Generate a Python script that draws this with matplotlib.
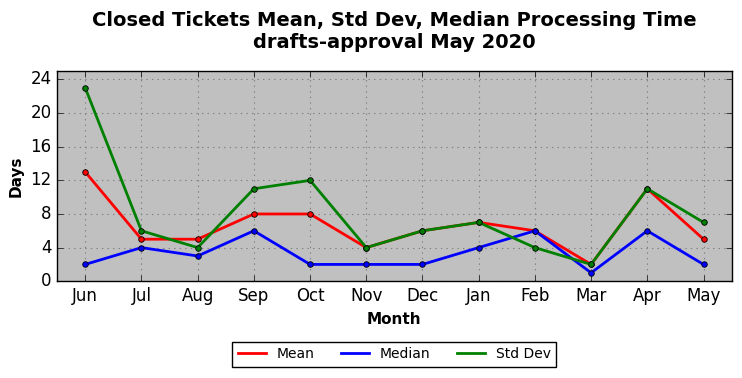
import matplotlib
matplotlib.use("Agg")
import matplotlib.pyplot as plt

months = ["Jun", "Jul", "Aug", "Sep", "Oct", "Nov", "Dec", "Jan", "Feb", "Mar", "Apr", "May"]
mean = [13, 5, 5, 8, 8, 4, 6, 7, 6, 2, 11, 5]
median = [2, 4, 3, 6, 2, 2, 2, 4, 6, 1, 6, 2]
std_dev = [23, 6, 4, 11, 12, 4, 6, 7, 4, 2, 11, 7]

plt.style.use("classic")
fig = plt.figure(figsize=(7.42, 3.78), dpi=100)
fig.patch.set_facecolor("white")
ax = fig.add_axes([0.077, 0.256, 0.909, 0.556])
ax.set_facecolor("#c0c0c0")

x = list(range(len(months)))
ax.plot(x, mean, "o-", color="red", lw=2, ms=4, mec="black", mew=0.6, label="Mean")
ax.plot(x, median, "o-", color="blue", lw=2, ms=4, mec="black", mew=0.6, label="Median")
ax.plot(x, std_dev, "o-", color="green", lw=2, ms=4, mec="black", mew=0.6, label="Std Dev")

ax.set_xlim(-0.5, len(months) - 0.5)
ax.set_ylim(0, 25)
ax.set_yticks(range(0, 25, 4))
ax.set_xticks(x)
ax.set_xticklabels(months)
ax.tick_params(labelsize=12)
ax.grid(True, linestyle=":", color="#808080", lw=0.8)
ax.set_axisbelow(True)

ax.set_xlabel("Month", fontsize=11, fontweight="bold")
ax.set_ylabel("Days", fontsize=11, fontweight="bold")
fig.suptitle("Closed Tickets Mean, Std Dev, Median Processing Time\ndrafts-approval May 2020",
             fontsize=14, fontweight="bold", x=0.077 + 0.909 / 2, y=0.972)

leg = ax.legend(loc="upper center", bbox_to_anchor=(0.5, -0.255), ncol=3, fontsize=10,
                frameon=True, fancybox=False, numpoints=1,
                handlelength=2, columnspacing=1.9)
for h in leg.legend_handles:
    h.set_marker("")

fig.savefig("out.png", dpi=100, facecolor="white")
